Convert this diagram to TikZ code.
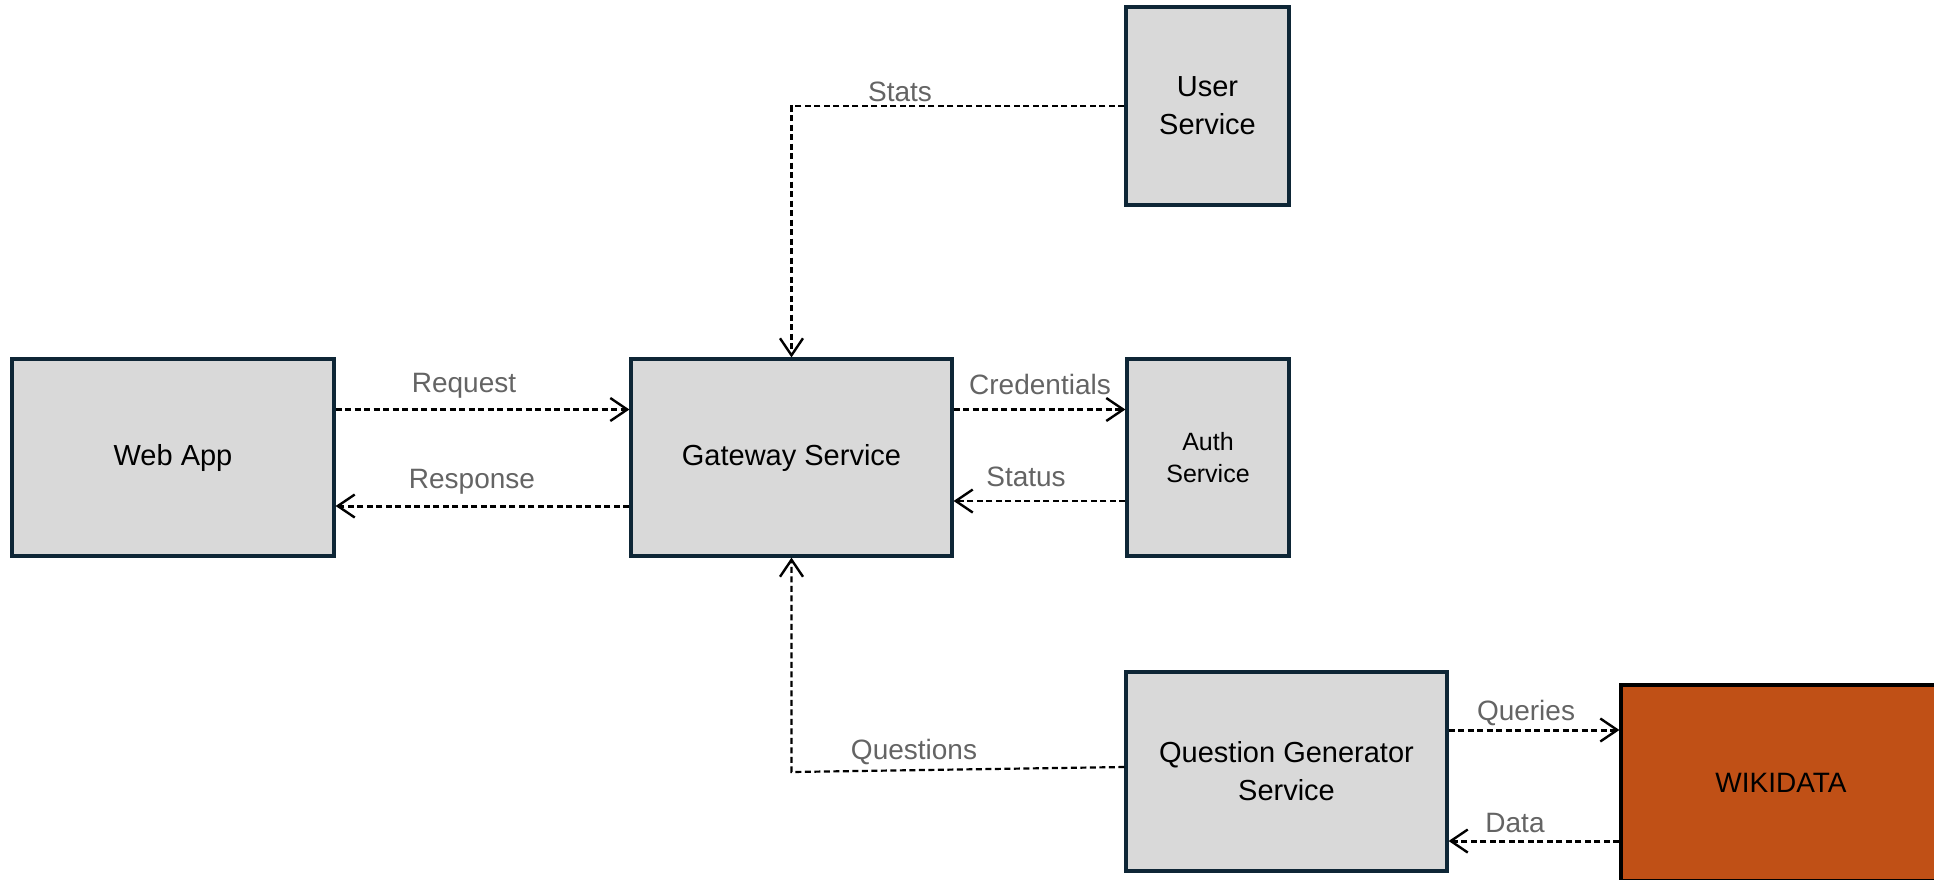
\documentclass[tikz,border=0pt]{standalone}
\usepackage{fontspec}
\setmainfont{Liberation Sans}
\usetikzlibrary{arrows.meta,calc}
\definecolor{boxfill}{RGB}{217,217,217}
\definecolor{boxline}{RGB}{14,38,54}
\definecolor{wikifill}{RGB}{192,80,22}
\definecolor{lblgray}{RGB}{100,100,100}
\begin{document}
\begin{tikzpicture}[x=1pt,y=-1pt,
  box/.style={draw=boxline, line width=3.2pt, fill=boxfill, inner sep=0pt, align=center,
    font=\fontsize{29}{38}\selectfont},
  conn/.style={line width=2.2pt, dash pattern=on 6pt off 3.5pt,
    -{Straight Barb[length=17pt,width=23pt,line width=2.4pt]}},
  thickconn/.style={conn, line width=3pt},
  lbl/.style={text=lblgray, inner sep=0pt, font=\fontsize{28}{34}\selectfont}]
\useasboundingbox (0,0) rectangle (1934,879);
\clip (0,0) rectangle (1934,879);

\node[box, minimum width=322pt, minimum height=197pt] (web) at (173,457.5) {Web App};
\node[box, minimum width=321pt, minimum height=197pt] (gw) at (791.5,457.5) {Gateway Service};
\node[box, minimum width=163pt, minimum height=198pt] (user) at (1207.5,106) {User\\Service};
\node[box, minimum width=162pt, minimum height=197pt, font=\fontsize{25}{32}\selectfont] (auth) at (1208,457.5) {Auth\\Service};
\node[box, minimum width=321pt, minimum height=199pt] (qg) at (1286.5,771.5) {Question Generator\\Service};
\node[box, draw=black, fill=wikifill, minimum width=320pt, minimum height=196pt, font=\fontsize{28}{34}\selectfont] (wiki) at (1781,783) {WIKIDATA};

% connectors
\draw[thickconn] ([yshift=48pt]web.east) -- ([yshift=48pt]gw.west);
\draw[thickconn] ([yshift=-48.5pt]gw.west) -- ([yshift=-48.5pt]web.east);
\draw[conn] ([yshift=48pt]gw.east) -- ([yshift=48pt]auth.west);
\draw[conn] ([yshift=-43.5pt]auth.west) -- ([yshift=-43.5pt]gw.east);
\draw[conn] (user.west) -| (gw.north);
\coordinate (qc) at (gw.south |- 0,772);
\draw[conn] ([yshift=4.5pt]qg.west) -- (qc) -- (gw.south);
\draw[thickconn] ([yshift=41.5pt]qg.east) -- ([yshift=53pt]wiki.west);
\draw[thickconn] ([yshift=-58pt]wiki.west) -- ([yshift=-69.5pt]qg.east);

% labels
\node[lbl] (lreq) at (464,386) {Request};
\node[lbl] (lres) at (472,482) {Response};
\node[lbl] (lcred) at (1040,384) {Credentials};
\node[lbl] (lstat) at (1026,477) {Status};
\node[lbl] (lstats) at (900,92) {Stats};
\node[lbl] (lq) at (914,752) {Questions};
\node[lbl] (lqu) at (1526,713) {Queries};
\node[lbl] (ldata) at (1515,823) {Data};
\end{tikzpicture}
\end{document}
